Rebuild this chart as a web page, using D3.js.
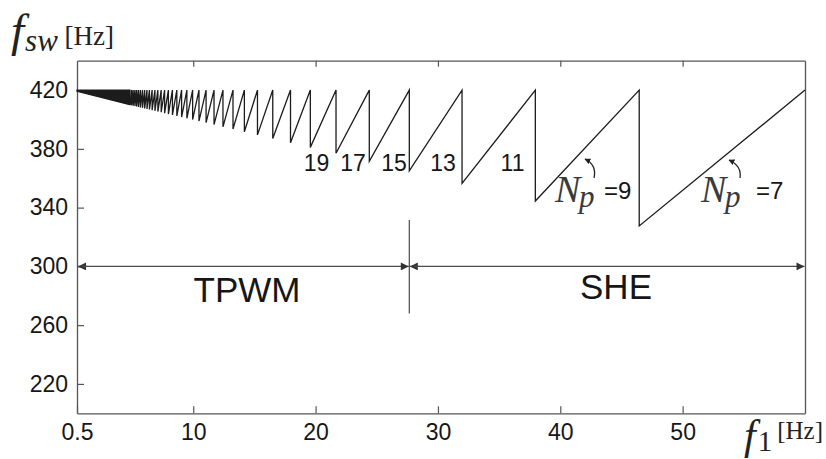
<!DOCTYPE html>
<html>
<head>
<meta charset="utf-8">
<script src="https://cdn.jsdelivr.net/npm/d3@7/dist/d3.min.js"></script>
<style>
  html, body { margin: 0; padding: 0; background: #fff; }
  svg { display: block; }
</style>
</head>
<body>
<svg id="chart" width="826" height="459"></svg>
<script>
// ---------------- data ----------------
const xTicks = [0.5, 10, 20, 30, 40, 50];
const yTicks = [220, 260, 300, 340, 380, 420];
const xDomain = [0.5, 60];
const yDomain = [200, 440];
const maxFsw = 420;

// pulse number of each sawtooth tooth (left to right)
const pulseNumbers = [81,79,77,75,73,71,69,67,65,63,61,59,57,55,53,51,49,47,45,43,41,39,37,35,33,31,29,27,25,23,21,19,17,15,13,11,9,7];
// f1 at which each tooth reaches the 420 Hz ceiling
const toothEndF1 = [4.96,5.09,5.23,5.37,5.52,5.68,5.85,6.03,6.22,6.42,6.64,6.87,7.11,7.38,7.66,7.97,8.30,8.66,9.05,9.48,9.95,10.47,11.05,11.70,12.43,13.25,14.18,15.25,16.50,17.95,19.57,21.67,24.39,27.66,31.97,37.96,46.45,60.0];
// f_sw at the start (bottom) of each tooth
const toothLowFsw = [409.9,409.6,409.4,409.1,408.8,408.5,408.2,407.9,407.5,407.2,406.8,406.3,405.9,405.4,404.9,404.3,403.7,403.1,402.4,401.6,400.8,399.9,398.9,397.8,396.5,395.0,393.5,391.6,389.5,387.0,384.2,381.0,377.0,371.5,365.0,356.5,344.5,327.5];
// very dense teeth region at low f1 (unresolvable band)
const denseBandF1 = [0.5, 4.83];
const denseBandLow = [419.2, 410.1];

const toothLabels = ["19", "17", "15", "13", "11"];
const regionLabels = ["TPWM", "SHE"];
const boundaryF1 = 27.66;
const arrowFsw = 300;

// ---------------- layout ----------------
const M = { left: 77, right: 805, top: 60.7, bottom: 413.3 };
const svg = d3.select("#chart");
const x = d3.scaleLinear().domain(xDomain).range([M.left, M.right]);
const y = d3.scaleLinear().domain(yDomain).range([M.bottom, M.top]);

const axisColor = "#555";
const lineColor = "#1c1c1c";
const textColor = "#161616";
const sans = "'Liberation Sans', Arial, sans-serif";
const serif = "'Liberation Serif', 'Times New Roman', serif";

// defs: arrowheads
const defs = svg.append("defs");
defs.append("marker").attr("id", "ah").attr("viewBox", "0 0 10 10")
  .attr("refX", 10).attr("refY", 5).attr("markerWidth", 9).attr("markerHeight", 8)
  .attr("markerUnits", "userSpaceOnUse").attr("orient", "auto")
  .append("path").attr("d", "M0,0 L10,5 L0,10 Z").attr("fill", "#333");
defs.append("marker").attr("id", "ahs").attr("viewBox", "0 0 10 10")
  .attr("refX", 9).attr("refY", 5).attr("markerWidth", 6).attr("markerHeight", 6)
  .attr("markerUnits", "userSpaceOnUse").attr("orient", "auto")
  .append("path").attr("d", "M0,0 L10,5 L0,10 Z").attr("fill", "#222");

// ---------------- axes ----------------
function styleAxis(g) {
  g.selectAll("path.domain").attr("stroke", axisColor).attr("stroke-width", 1.3);
  g.selectAll(".tick line").attr("stroke", axisColor).attr("stroke-width", 1.2);
  g.selectAll(".tick text").attr("fill", textColor).style("font-family", sans).style("font-size", "23px");
}
svg.append("g").attr("transform", `translate(0,${M.bottom})`)
  .call(d3.axisBottom(x).tickValues(xTicks).tickFormat(d => String(d)).tickSize(-7).tickSizeOuter(0).tickPadding(10))
  .call(styleAxis);
svg.append("g").attr("transform", `translate(0,${M.top})`)
  .call(d3.axisTop(x).tickValues(xTicks.slice(1)).tickFormat("").tickSize(-6).tickSizeOuter(0))
  .call(styleAxis);
svg.append("g").attr("transform", `translate(${M.left},0)`)
  .call(d3.axisLeft(y).tickValues(yTicks).tickSize(-7).tickSizeOuter(0).tickPadding(9))
  .call(styleAxis);
svg.append("g").attr("transform", `translate(${M.right},0)`)
  .call(d3.axisRight(y).tickValues([]).tickSizeOuter(0))
  .call(styleAxis);

// ---------------- sawtooth ----------------
const band = [[denseBandF1[0], maxFsw], [denseBandF1[1], maxFsw], [denseBandF1[1], denseBandLow[1]], [denseBandF1[0], denseBandLow[0]]];
svg.append("path")
  .attr("d", d3.line().x(d => x(d[0])).y(d => y(d[1]))(band) + "Z")
  .attr("fill", lineColor).attr("stroke", lineColor).attr("stroke-width", 1.3);

const pts = [];
let prev = denseBandF1[1];
pulseNumbers.forEach((np, i) => {
  pts.push([prev, toothLowFsw[i]]);
  pts.push([toothEndF1[i], maxFsw]);
  prev = toothEndF1[i];
});
svg.append("path")
  .attr("d", d3.line().x(d => x(d[0])).y(d => y(d[1]))(pts))
  .attr("fill", "none").attr("stroke", lineColor).attr("stroke-width", 1.3)
  .attr("stroke-linejoin", "miter");

// ---------------- region arrows ----------------
const ay = y(arrowFsw);
const arrowLine = (x1, x2) => svg.append("line").attr("x1", x1).attr("x2", x2)
  .attr("y1", ay).attr("y2", ay).attr("stroke", "#4a4a4a").attr("stroke-width", 1.3)
  .attr("marker-end", "url(#ah)");
arrowLine(x(xDomain[0]) + 10, x(xDomain[0]) + 1);
arrowLine(x(xDomain[0]) + 5, x(boundaryF1) - 0.5);
arrowLine(x(boundaryF1) + 10, x(boundaryF1) + 0.5);
arrowLine(x(boundaryF1) + 5, x(xDomain[1]) - 0.5);
svg.append("line").attr("x1", x(boundaryF1)).attr("x2", x(boundaryF1))
  .attr("y1", y(331.5)).attr("y2", y(268)).attr("stroke", "#4a4a4a").attr("stroke-width", 1.2);

svg.append("text").text(regionLabels[0]).attr("x", 247).attr("y", 301.5)
  .attr("text-anchor", "middle").style("font-family", sans).style("font-size", "35px")
  .attr("fill", textColor);
svg.append("text").text(regionLabels[1]).attr("x", 616).attr("y", 299)
  .attr("text-anchor", "middle").style("font-family", sans).style("font-size", "35px")
  .attr("fill", textColor);

// ---------------- tooth labels ----------------
const labelX = [316.5, 353, 394, 443, 512.5];
toothLabels.forEach((t, i) => {
  svg.append("text").text(t).attr("x", labelX[i]).attr("y", 171)
    .attr("text-anchor", "middle").style("font-family", sans).style("font-size", "23px")
    .attr("fill", textColor);
});

// Np annotations
function npLabel(nx, value, eqx) {
  const g = svg.append("g");
  g.append("text").attr("x", nx).attr("y", 202).style("font-family", serif)
    .style("font-style", "italic").style("font-size", "38px").attr("fill", "#3a3a3a").text("N");
  g.append("text").attr("x", nx + 24).attr("y", 207).style("font-family", serif)
    .style("font-style", "italic").style("font-size", "31px").attr("fill", "#3a3a3a").text("p");
  g.append("text").attr("x", eqx).attr("y", 198.5).style("font-family", sans)
    .style("font-size", "24px").attr("fill", textColor).text("=" + value);
}
npLabel(555, 9, 604);
npLabel(701, 7, 756);
svg.append("path").attr("d", "M594,178 Q597,165 585,159").attr("fill", "none")
  .attr("stroke", "#222").attr("stroke-width", 1.3).attr("marker-end", "url(#ahs)");
svg.append("path").attr("d", "M740,178 Q742,166 729,160").attr("fill", "none")
  .attr("stroke", "#222").attr("stroke-width", 1.3).attr("marker-end", "url(#ahs)");

// ---------------- axis titles ----------------
const yt = svg.append("text").attr("x", 11).attr("y", 46).attr("fill", "#222");
yt.append("tspan").text("f").style("font-family", serif).style("font-style", "italic").style("font-size", "47px");
yt.append("tspan").text("sw").attr("dx", 1).attr("dy", 5).style("font-family", serif).style("font-style", "italic").style("font-size", "31px");
yt.append("tspan").text(" [Hz]").attr("dy", -6).style("font-family", serif).style("font-size", "27px");

const xt = svg.append("text").attr("x", 744).attr("y", 449).attr("fill", "#222");
xt.append("tspan").text("f").style("font-family", serif).style("font-style", "italic").style("font-size", "42px");
xt.append("tspan").text("1").attr("dx", 2).attr("dy", 2).style("font-family", serif).style("font-size", "29px");
xt.append("tspan").text("[Hz]").attr("dx", 5).attr("dy", -12).style("font-family", serif).style("font-size", "25px");
</script>
</body>
</html>
